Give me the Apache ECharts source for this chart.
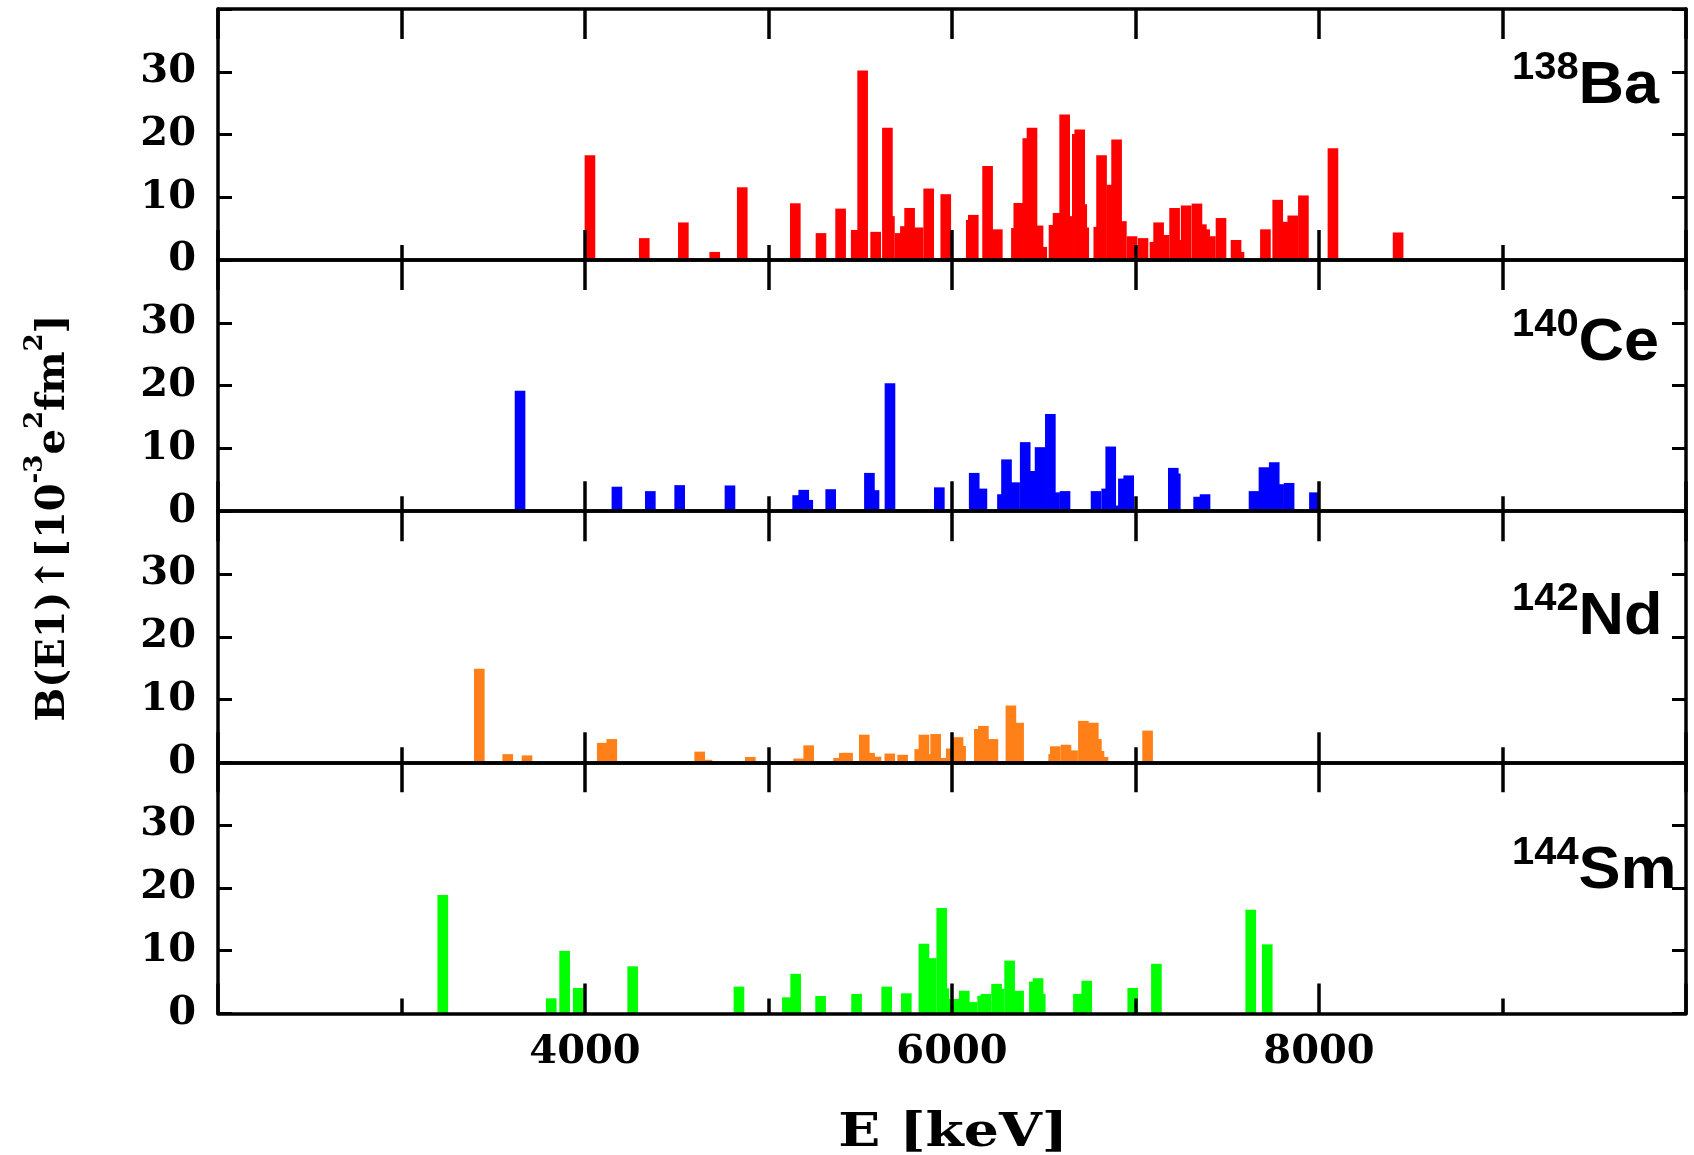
<!DOCTYPE html>
<html><head><meta charset="utf-8">
<script src="https://cdn.jsdelivr.net/npm/echarts@6/dist/echarts.min.js"></script>
<style>html,body{margin:0;padding:0;background:#fff}#c{width:1694px;height:1155px}</style>
</head><body><div id="c"></div>
<script>
// ---- data (energy in keV, B(E1) in 10^-3 e^2 fm^2) ----
const baE = [4027,4323,4536,4707,4857,5146,5286,5393,5478,5513,5584,5648,5659,5717,5746,5769,5815,5873,5966,6105,6116,6194,6247,6351,6364,6413,6436,6469,6489,6556,6578,6614,6625,6683,6696,6707,6718,6800,6815,6872,6897,6923,6981,7041,7106,7126,7155,7213,7222,7276,7335,7359,7377,7408,7466,7548,7564,7708,7775,7815,7857,7915,8076,8431];
const baB = [16.7,3.5,6.0,1.3,11.6,9.05,4.3,8.2,4.8,30.2,4.5,21.1,7.0,4.3,5.4,8.3,5.2,11.4,10.5,6.4,7.2,15.0,4.9,5.1,9.1,19.4,21.1,5.5,2.1,5.6,7.5,23.2,7.0,20.1,20.8,8.9,5.2,5.3,16.7,12.0,19.2,6.2,3.8,3.5,2.9,6.0,4.0,8.3,3.2,8.7,9.0,5.7,4.9,3.8,6.7,3.2,1.3,4.9,9.6,6.1,7.1,10.3,17.8,4.4];

const ceE = [3646,4174,4356,4516,4790,5159,5192,5214,5339,5550,5575,5662,5931,6121,6163,6275,6297,6341,6399,6441,6480,6536,6550,6559,6616,6785,6843,6865,6895,6934,6963,7206,7217,7344,7379,7646,7657,7700,7756,7780,7837,7975];
const ceB = [19.2,3.9,3.2,4.15,4.1,2.55,3.4,1.8,3.5,6.1,3.35,20.4,3.8,6.1,3.6,2.7,8.25,4.6,11.0,6.4,10.2,15.5,2.7,3.0,3.2,3.2,3.6,10.3,0.9,5.2,5.7,6.9,6.0,2.3,2.7,3.2,2.0,7.0,7.8,4.3,4.5,3.0];

const ndE = [3424,3579,3684,4094,4146,4625,4665,4901,5164,5219,5382,5413,5431,5522,5551,5586,5661,5731,5824,5847,5870,5911,5938,5996,6033,6047,6149,6171,6223,6321,6363,6554,6563,6621,6657,6716,6770,6787,6801,6823,7066];
const ndB = [14.9,1.3,1.1,3.1,3.7,1.7,0.4,0.85,0.6,2.7,0.7,1.5,1.5,4.4,1.5,0.9,1.4,1.2,2.1,4.4,1.3,4.5,0.7,2.2,4.0,2.6,5.3,5.8,3.7,9.05,6.3,1.3,2.55,2.8,1.9,6.6,6.3,3.7,1.8,0.85,5.05];

const smE = [3225,3816,3889,3963,4260,4839,5103,5148,5284,5480,5644,5751,5847,5869,5886,5944,5956,6009,6067,6109,6167,6185,6243,6256,6314,6363,6449,6469,6481,6689,6734,6985,7114,7628,7718];
const smB = [18.85,2.4,9.96,4.05,7.5,4.26,2.56,6.3,2.77,3.1,4.26,3.2,11.1,5.06,8.8,16.8,4.0,2.3,3.6,1.8,2.8,3.1,4.7,3.9,8.4,3.6,5.06,5.6,3.1,3.1,5.2,4.05,7.9,16.5,11.0];

const nuclei = [
  {mass:'138', sym:'Ba', E:baE, B:baB, color:'#ff0000'},
  {mass:'140', sym:'Ce', E:ceE, B:ceB, color:'#0000ff'},
  {mass:'142', sym:'Nd', E:ndE, B:ndB, color:'#ff8018'},
  {mass:'144', sym:'Sm', E:smE, B:smB, color:'#00ff00'}
];
const xTicks = [4000, 6000, 8000];
const yTicks = [0, 10, 20, 30];

// ---- layout ----
const LEFT = 218, RIGHT = 8, TOP = 9, PH = 251.1;
const labelY = [83, 340, 614, 868];
const BARW = 58; // keV
const serif = 'DejaVu Serif';

const grids = [], xAxes = [], yAxes = [], series = [], graphics = [];
nuclei.forEach((n, i) => {
  grids.push({left: LEFT, right: RIGHT, top: TOP + i * PH, height: PH, show: false});
  const last = i === nuclei.length - 1;
  const axBase = {
    type: 'value', gridIndex: i, min: 2000, max: 10000, interval: 2000, z: 5,
    axisLine: {show: true, onZero: false, lineStyle: {color: '#000', width: 3.5}},
    axisTick: {show: true, inside: true, length: 30, lineStyle: {color: '#000', width: 3.5}},
    minorTick: {show: true, splitNumber: 2, length: 15, lineStyle: {color: '#000', width: 3.5}},
    splitLine: {show: false}, minorSplitLine: {show: false}
  };
  xAxes.push(Object.assign({}, axBase, {
    position: 'bottom',
    axisLabel: {show: last, margin: 19, color: '#000', fontFamily: serif, fontWeight: 'bold', fontSize: 40,
      formatter: v => xTicks.includes(v) ? String(v) : ''}
  }));
  xAxes.push(Object.assign({}, axBase, {position: 'top', axisLabel: {show: false},
    minorTick: {show: true, splitNumber: 2, length: 30, lineStyle: {color: '#000', width: 3.5}}}));
  const yBase = {
    type: 'value', gridIndex: i, min: 0, max: 40, interval: 10, z: 5,
    axisLine: {show: true, onZero: false, lineStyle: {color: '#000', width: 3.5}},
    axisTick: {show: true, inside: true, length: 14, lineStyle: {color: '#000', width: 3}},
    splitLine: {show: false}
  };
  yAxes.push(Object.assign({}, yBase, {position: 'left',
    axisLabel: {margin: 22, color: '#000', fontFamily: serif, fontWeight: 'bold', fontSize: 40,
      formatter: v => yTicks.includes(v) ? String(v) : ''}}));
  yAxes.push(Object.assign({}, yBase, {position: 'right', axisLabel: {show: false}}));

  series.push({
    type: 'custom', xAxisIndex: 2 * i, yAxisIndex: 2 * i, z: 2,
    data: n.E.map((e, k) => [e, n.B[k]]),
    renderItem: (params, api) => {
      const x = api.value(0), v = api.value(1);
      const p0 = api.coord([x - BARW / 2, v]);
      const p1 = api.coord([x + BARW / 2, 0]);
      return {type: 'rect', shape: {x: p0[0], y: p0[1], width: p1[0] - p0[0], height: p1[1] - p0[1]},
        style: {fill: n.color}};
    }
  });

  graphics.push({
    type: 'text', x: 1512, y: labelY[i], scaleX: 1.05, z: 10,
    style: {
      text: '{s|' + n.mass + '}{n|' + n.sym + '}',
      align: 'left', verticalAlign: 'middle',
      rich: {
        s: {fontFamily: 'Liberation Sans', fontWeight: 'bold', fontSize: 38, fill: '#000', verticalAlign: 'top', lineHeight: 66},
        n: {fontFamily: 'Liberation Sans', fontWeight: 'bold', fontSize: 60, fill: '#000', verticalAlign: 'bottom', lineHeight: 66}
      }
    }
  });
});

graphics.push({
  type: 'text', x: 953, y: 1134, scaleX: 1.2, z: 10,
  style: {text: 'E [keV]', font: 'bold 46px "DejaVu Serif"', fill: '#000', align: 'center', verticalAlign: 'middle'}
});
graphics.push({
  type: 'text', x: 48, y: 518, rotation: Math.PI / 2, z: 10,
  style: {
    text: '{n|B(E1)↑[10}{s|-3}{n|e}{s|2}{n|fm}{s|2}{n|]}',
    align: 'center', verticalAlign: 'middle',
    rich: {
      n: {fontFamily: serif, fontWeight: 'bold', fontSize: 40, fill: '#000', verticalAlign: 'bottom', lineHeight: 52},
      s: {fontFamily: serif, fontWeight: 'bold', fontSize: 26, fill: '#000', verticalAlign: 'top', lineHeight: 52}
    }
  }
});

const chart = echarts.init(document.getElementById('c'), null, {renderer: 'canvas'});
chart.setOption({
  animation: false,
  backgroundColor: '#fff',
  grid: grids, xAxis: xAxes, yAxis: yAxes, series: series, graphic: graphics
});
</script></body></html>
